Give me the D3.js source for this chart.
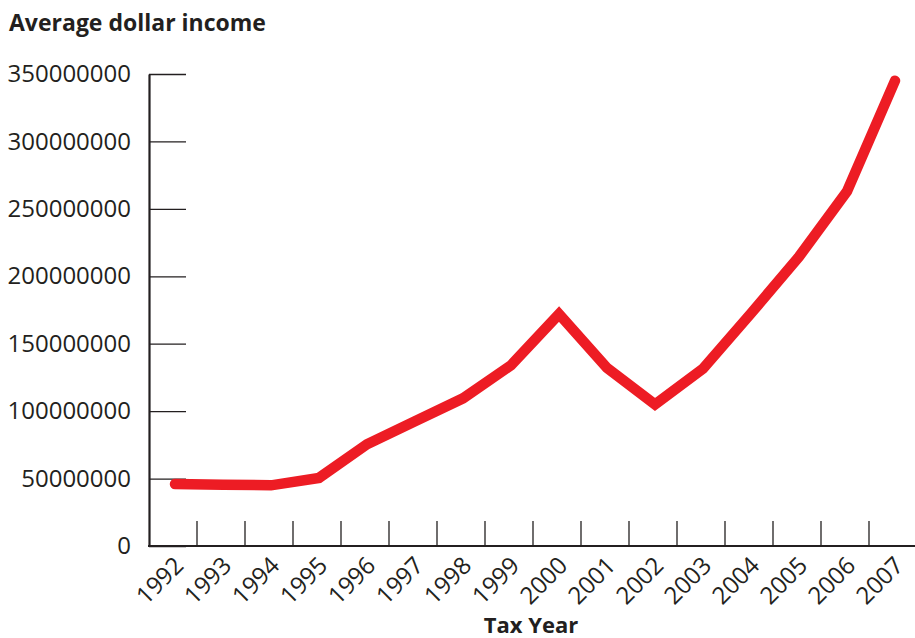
<!DOCTYPE html>
<html><head><meta charset="utf-8">
<script src="https://cdn.jsdelivr.net/npm/d3@7"></script>
<style>body{margin:0;background:#fff}svg{display:block}</style>
</head><body>
<svg id="c" width="915" height="638"></svg>
<script>
const years = ["1992","1993","1994","1995","1996","1997","1998","1999","2000","2001","2002","2003","2004","2005","2006","2007"];
const income = [46000000,45500000,45000000,50500000,75500000,92500000,109500000,134000000,172000000,132000000,105000000,131500000,172500000,214500000,263000000,345000000];
const yTicks = [0,50000000,100000000,150000000,200000000,250000000,300000000,350000000];
const title = "Average dollar income";
const xTitle = "Tax Year";

const svg = d3.select("#c");
const font = "'Open Sans', sans-serif";
const ink = "#231f20";
const x = d3.scaleBand().domain(years).range([149, 917]).padding(0);
const y = d3.scaleLinear().domain([0, 350000000]).range([546, 74]);

// y axis
const ya = svg.append("g").attr("transform","translate(149,0)")
  .call(d3.axisLeft(y).tickValues(yTicks).tickFormat(d3.format("d")).tickSize(-37).tickSizeOuter(0).tickPadding(18));
ya.select(".domain").attr("stroke", ink).attr("stroke-width", 2.2);
ya.selectAll(".tick line").attr("stroke", ink).attr("stroke-width", 1.3);
ya.selectAll(".tick text").attr("font-family", font).attr("font-size", 24).attr("fill", ink);

// x axis
const xa = svg.append("g").attr("transform","translate(0,546)")
  .call(d3.axisBottom(x).tickSize(0).tickSizeOuter(0).tickPadding(0));
xa.select(".domain").attr("stroke", ink).attr("stroke-width", 2.2).attr("d", "M148,0H915");
xa.selectAll(".tick text")
  .attr("font-family", font).attr("font-size", 24).attr("fill", ink)
  .attr("text-anchor","end").attr("dy", null).attr("y", 0)
  .attr("transform", "translate(12,21) rotate(-45)");
svg.append("g").selectAll("line").data(years.slice(1)).join("line")
  .attr("x1", d => x(d)).attr("x2", d => x(d))
  .attr("y1", 546).attr("y2", 521)
  .attr("stroke", ink).attr("stroke-width", 1.3);

// line
const line = d3.line().x((d,i) => x(years[i]) + x.bandwidth()/2 + 2).y(d => y(d));
svg.append("path").datum(income).attr("d", line)
  .attr("fill","none").attr("stroke","#ed1c24").attr("stroke-width", 10.5)
  .attr("stroke-linecap","round").attr("stroke-linejoin","miter");

svg.append("text").attr("x", 9).attr("y", 31).text(title)
  .attr("font-family", font).attr("font-weight", 700).attr("font-size", 23).attr("fill", ink);
svg.append("text").attr("x", 531).attr("y", 633).attr("text-anchor","middle").text(xTitle)
  .attr("font-family", font).attr("font-weight", 700).attr("font-size", 22).attr("fill", ink);
</script>
</body></html>
